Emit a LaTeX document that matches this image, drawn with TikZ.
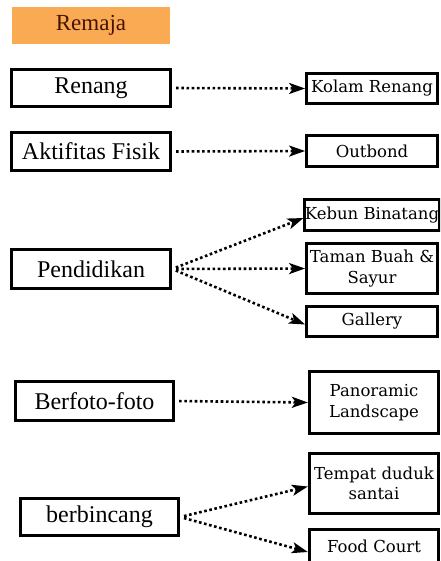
\documentclass[tikz,border=0pt]{standalone}
\usepackage{fontspec}
\setmainfont{Liberation Serif}
\newfontfamily\rfont{DejaVu Serif}
\usetikzlibrary{arrows.meta}
\definecolor{remajafill}{RGB}{250,170,82}
\definecolor{remajatext}{RGB}{70,20,5}
\begin{document}
\begin{tikzpicture}[x=1pt,y=-1pt,
  leftbox/.style={draw=black,line width=3.2pt,fill=white,inner sep=0pt,minimum width=158pt,
    font=\fontsize{24}{28}\selectfont},
  rightbox/.style={draw=black,line width=2.8pt,fill=white,inner sep=0pt,minimum width=131pt,
    align=center,font=\rfont\fontsize{16.5}{20.5}\selectfont},
  conn/.style={line width=2.6pt,dash pattern=on 2.6pt off 2.6pt,
    -{Stealth[length=16pt,width=11pt,inset=4pt]},shorten <=4pt}]
\useasboundingbox (0,0) rectangle (440,561);
\clip (0,0) rectangle (440,561);
\node[fill=remajafill,minimum width=158pt,minimum height=37pt,inner sep=0pt,
  text=remajatext,font=\fontsize{23}{27}\selectfont] (remaja) at (91,25.5) {Remaja};
% left boxes
\node[leftbox,minimum width=159pt,minimum height=37pt] (renang) at (91,88) {Renang};
\node[leftbox,minimum width=159pt,minimum height=38pt] (fisik) at (91,151.5) {Aktifitas Fisik};
\node[leftbox,minimum width=159pt,minimum height=39pt] (pend) at (91,269) {Pendidikan};
\node[leftbox,minimum height=39pt] (foto) at (94.5,401) {Berfoto-foto};
\node[leftbox,minimum height=37pt] (bincang) at (99.5,517) {berbincang};
% right boxes
\node[rightbox,minimum height=30.5pt] (kolam) at (372,88.5) {Kolam Renang};
\node[rightbox,minimum height=31.5pt] (outbond) at (372,151) {Outbond};
\node[rightbox,minimum height=31.5pt] (kebun) at (372,215) {Kebun Binatang};
\node[rightbox,minimum height=50.5pt] (taman) at (372,268.5) {Taman Buah \&\\Sayur};
\node[rightbox,minimum height=30.5pt] (gallery) at (372,321.5) {Gallery};
\node[rightbox,minimum width=129.5pt,minimum height=62.5pt] (pano) at (374,402.5) {Panoramic\\Landscape};
\node[rightbox,minimum width=129.5pt,minimum height=60.5pt] (tempat) at (374,483.5) {Tempat duduk\\santai};
\node[rightbox,minimum width=129.5pt,minimum height=33.5pt] (food) at (374,546) {Food Court};
% connectors
\draw[conn] (renang.east) -- (kolam.west);
\draw[conn] (fisik.east) -- (outbond.west);
\draw[conn] (pend.east) -- ([yshift=-3pt]kebun.west);
\draw[conn] (pend.east) -- (taman.west);
\draw[conn] (pend.east) -- ([yshift=-3pt]gallery.west);
\draw[conn] (foto.east) -- (pano.west);
\draw[conn] (bincang.east) -- ([yshift=-3pt]tempat.west);
\draw[conn] (bincang.east) -- ([yshift=-6pt]food.west);
\end{tikzpicture}
\end{document}
